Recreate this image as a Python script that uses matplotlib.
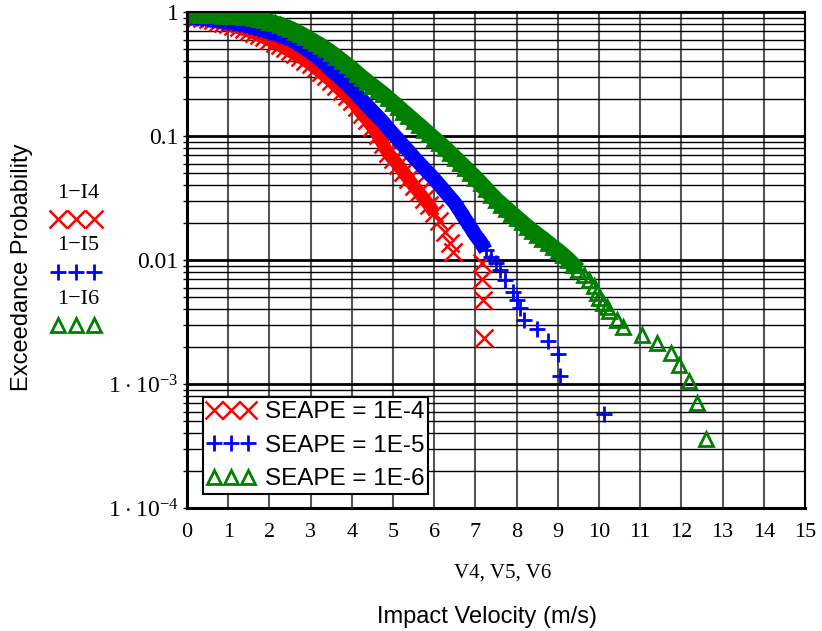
import matplotlib
matplotlib.use("Agg")
import matplotlib.pyplot as plt
from matplotlib.lines import Line2D
from matplotlib.ticker import FixedLocator, FixedFormatter, LogLocator, NullFormatter

plt.rcParams['mathtext.fontset'] = 'custom'
plt.rcParams['mathtext.rm'] = 'Liberation Serif'

# --- data --------------------------------------------------------------------
# SEAPE = 1E-4 (1-I4), red x
v4 = [0.0, 0.125, 0.25, 0.375, 0.5, 0.625, 0.75, 0.875, 1.0, 1.125, 1.25, 1.375,
      1.5, 1.625, 1.75, 1.875, 2.0, 2.125, 2.25, 2.375, 2.5, 2.625, 2.75, 2.875,
      3.0, 3.125, 3.25, 3.375, 3.5, 3.625, 3.75, 3.875, 4.0, 4.125, 4.25, 4.375,
      4.5, 4.625, 4.75, 4.875, 5.0, 5.125, 5.25, 5.375, 5.5, 5.625, 5.75, 5.875,
      6.0, 6.125, 6.25, 6.375, 6.45,
      7.15, 7.17, 7.18, 7.22]
p4 = [0.928, 0.920, 0.903, 0.895, 0.878, 0.862, 0.838, 0.815, 0.800, 0.778, 0.750, 0.729,
      0.703, 0.677, 0.652, 0.623, 0.595, 0.567, 0.542, 0.512, 0.485, 0.458, 0.433, 0.406,
      0.381, 0.353, 0.327, 0.302, 0.278, 0.253, 0.231, 0.210, 0.192, 0.171, 0.150, 0.135,
      0.118, 0.102, 0.0866, 0.0730, 0.0653, 0.0584, 0.0513, 0.0451, 0.0397, 0.0354, 0.0312, 0.0278,
      0.0240, 0.0206, 0.0168, 0.0137, 0.0115,
      0.0094, 0.0070, 0.00476, 0.00234]

# SEAPE = 1E-5 (1-I5), blue +
v5 = [0.0, 0.125, 0.25, 0.375, 0.5, 0.625, 0.75, 0.875, 1.0, 1.125, 1.25, 1.375,
      1.5, 1.625, 1.75, 1.875, 2.0, 2.125, 2.25, 2.375, 2.5, 2.625, 2.75, 2.875,
      3.0, 3.125, 3.25, 3.375, 3.5, 3.625, 3.75, 3.875, 4.0, 4.125, 4.25, 4.375,
      4.5, 4.625, 4.75, 4.875, 5.0, 5.125, 5.25, 5.375, 5.5, 5.625, 5.75, 5.875,
      6.0, 6.125, 6.25, 6.375, 6.5, 6.625, 6.75, 6.875, 7.0, 7.125, 7.25, 7.375, 7.5,
      7.6, 7.72, 7.91, 8.0, 8.08, 8.18, 8.49, 8.76, 9.0, 9.05, 10.12]
p5 = [0.911, 0.903, 0.895, 0.886, 0.878, 0.862, 0.854, 0.838, 0.831, 0.815, 0.800, 0.786,
      0.771, 0.750, 0.729, 0.710, 0.690, 0.671, 0.646, 0.629, 0.605, 0.573, 0.542, 0.508,
      0.476, 0.442, 0.406, 0.374, 0.340, 0.313, 0.288, 0.263, 0.239, 0.216, 0.195, 0.176,
      0.159, 0.144, 0.130, 0.116, 0.104, 0.0937, 0.0838, 0.0757, 0.0677, 0.0611, 0.0552, 0.0499,
      0.0450, 0.0403, 0.0360, 0.0322, 0.0288, 0.0249, 0.0214, 0.0185, 0.0159, 0.0140, 0.0120,
      0.0106, 0.00946,
      0.0083, 0.0069, 0.00555, 0.00476, 0.0041, 0.00328, 0.00278, 0.00224, 0.00175, 0.00115,
      0.00057]

# SEAPE = 1E-6 (1-I6), green triangles
v6 = [0.0, 0.125, 0.25, 0.375, 0.5, 0.625, 0.75, 0.875, 1.0, 1.125, 1.25, 1.375,
      1.5, 1.625, 1.75, 1.875, 2.0, 2.125, 2.25, 2.375, 2.5, 2.625, 2.75, 2.875,
      3.0, 3.125, 3.25, 3.375, 3.5, 3.625, 3.75, 3.875, 4.0, 4.125, 4.25, 4.375,
      4.5, 4.625, 4.75, 4.875, 5.0, 5.125, 5.25, 5.375, 5.5, 5.625, 5.75, 5.875,
      6.0, 6.125, 6.25, 6.375, 6.5, 6.625, 6.75, 6.875, 7.0, 7.125, 7.25, 7.375,
      7.5, 7.625, 7.75, 7.875, 8.0, 8.125, 8.25, 8.375, 8.5, 8.625, 8.75, 8.875,
      9.0, 9.125, 9.25, 9.375, 9.5, 9.625, 9.75, 9.875, 9.95, 10.0, 10.1, 10.2, 10.25,
      10.43, 10.59, 11.04, 11.41, 11.75, 11.94, 12.18, 12.38, 12.59]
p6 = [0.964, 0.955, 0.950, 0.946, 0.946, 0.942, 0.940, 0.935, 0.928, 0.926, 0.922, 0.916,
      0.911, 0.895, 0.878, 0.854, 0.831, 0.808, 0.786, 0.757, 0.729, 0.696, 0.665, 0.629,
      0.595, 0.562, 0.532, 0.499, 0.467, 0.434, 0.403, 0.374, 0.347, 0.319, 0.294, 0.272,
      0.253, 0.235, 0.218, 0.201, 0.185, 0.170, 0.156, 0.144, 0.132, 0.122, 0.112, 0.103,
      0.0946, 0.0871, 0.0800, 0.0730, 0.0665, 0.0606, 0.0552, 0.0503, 0.0458, 0.0414, 0.0374, 0.0337,
      0.0305, 0.0280, 0.0258, 0.0237, 0.0218, 0.0201, 0.0185, 0.0171, 0.0159, 0.0148, 0.0137, 0.0127,
      0.0118, 0.0109, 0.0100, 0.0091, 0.0083, 0.0076, 0.0069, 0.0062, 0.0054, 0.0049, 0.0045, 0.0042, 0.0039,
      0.00328, 0.0029, 0.00248, 0.00214, 0.00178, 0.00142, 0.00106, 0.000707, 0.00036]

# where each trace stops looking like a solid band
dense_end = {'I4': 6.0, 'I5': 7.25, 'I6': 9.5}

x_ticks = list(range(0, 16))
y_ticks = [1e-4, 1e-3, 1e-2, 1e-1, 1]
y_tick_labels = [r'$\mathrm{1\cdot10^{-4}}$', r'$\mathrm{1\cdot10^{-3}}$', '0.01', '0.1', '1']
legend_labels = ['SEAPE = 1E-4', 'SEAPE = 1E-5', 'SEAPE = 1E-6']
side_labels = ['1\u2212I4', '1\u2212I5', '1\u2212I6']

RED, BLUE, GREEN = '#ff0000', '#0000ff', '#008000'
SERIF = 'Liberation Serif'
SANS = 'Liberation Sans'

style4 = dict(marker='x', ms=12.5, mew=1.8, color=RED)
style5 = dict(marker='+', ms=12, mew=2, color=BLUE)
style6 = dict(marker='^', ms=10, mew=2, mfc='none', mec=GREEN, color=GREEN)

fig = plt.figure(figsize=(8.22, 6.31), dpi=100)
ax = fig.add_axes([187 / 822, 1 - 508 / 631, 618 / 822, 496 / 631])

handles = []
for key, v, p, st, lw in [('I4', v4, p4, style4, 9.5),
                          ('I5', v5, p5, style5, 10.5),
                          ('I6', v6, p6, style6, 12)]:
    vd = [a for a in v if a <= dense_end[key]]
    pd_ = p[:len(vd)]
    # the many overlapping markers of the original read as a solid band
    ax.plot(vd, pd_, ls='-', lw=lw, color=st['color'], solid_capstyle='butt',
            solid_joinstyle='round')
    h, = ax.plot(v, p, ls='none', **st)
    handles.append(h)

ax.set_yscale('log')
ax.set_xlim(0, 15)
ax.set_ylim(1e-4, 1)

ax.xaxis.set_major_locator(FixedLocator(x_ticks))
ax.yaxis.set_major_locator(FixedLocator(y_ticks))
ax.yaxis.set_major_formatter(FixedFormatter(y_tick_labels))
ax.yaxis.set_minor_locator(LogLocator(base=10, subs=range(2, 10)))
ax.yaxis.set_minor_formatter(NullFormatter())

ax.grid(which='major', axis='x', color='#555555', lw=1.5)
ax.grid(which='major', axis='y', color='black', lw=2)
ax.grid(which='minor', axis='y', color='black', lw=1)
ax.set_axisbelow(True)

for side in ['left', 'bottom']:
    ax.spines[side].set_linewidth(2.2)
for side in ['top', 'right']:
    ax.spines[side].set_linewidth(1.5)

ax.tick_params(axis='x', length=0, pad=11, labelsize=16)
ax.tick_params(axis='y', which='major', length=3, width=1, pad=3, labelsize=17)
ax.tick_params(axis='y', which='minor', length=3, width=1)
for lab in ax.get_xticklabels() + ax.get_yticklabels():
    lab.set_fontfamily(SERIF)

leg = ax.legend(handles, legend_labels, loc='lower left',
                bbox_to_anchor=(0.026, 0.028), borderaxespad=0, numpoints=3,
                handlelength=2.0, handletextpad=0.4, borderpad=0.15,
                labelspacing=0.48, fancybox=False, framealpha=1,
                edgecolor='black', prop={'family': SANS, 'size': 17.5})
leg.get_frame().set_linewidth(1.5)

# side legend outside the axes (Mathcad trace labels)
side_text_y = [193, 246, 299]
side_mark_y = [219, 272, 325]
for lab, st, ty, my in zip(side_labels, [style4, style5, style6], side_text_y, side_mark_y):
    fig.text(78 / 822, 1 - ty / 631, lab, ha='center', va='center',
             family=SERIF, fontsize=16)
    fig.add_artist(Line2D([58 / 822, 76 / 822, 94 / 822], [1 - my / 631] * 3,
                          transform=fig.transFigure, ls='none', **st))

fig.text(22 / 822, 1 - 267 / 631, 'Exceedance Probability', rotation=90,
         ha='center', va='center', family=SANS, fontsize=17)
fig.text(503 / 822, 1 - 573 / 631, 'V4, V5, V6', ha='center', va='center',
         family=SERIF, fontsize=15)
fig.text(487 / 822, 1 - 617 / 631, 'Impact Velocity (m/s)', ha='center', va='center',
         family=SANS, fontsize=17)

fig.savefig('out.png', dpi=100)
plt.close(fig)
